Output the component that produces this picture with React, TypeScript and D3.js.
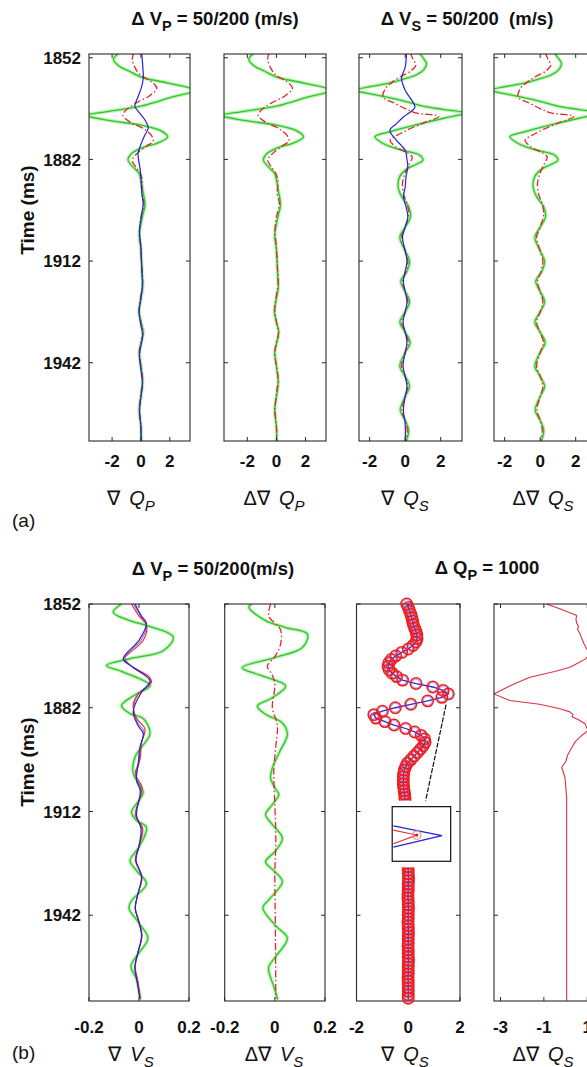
import React from 'react';
import * as d3 from 'd3';

// [time (ms), value]
type Pt = [number, number];

const timeTicks = [1852, 1882, 1912, 1942];
const ticksQ = [-2, 0, 2];
const ticksV = [-0.2, 0, 0.2];
const ticksDQ = [-3, -1, 1];

// (a) ΔVP = 50/200 : ∇QP / Δ∇QP
const qpGreen: Pt[] = [
  [1850.5, -1.5], [1852.5, -1.9], [1854.5, -1.5], [1856, -0.8], [1857.7, 0], [1859.5, 1.9],
  [1861.6, 3.7], [1863.8, 2.0], [1866.3, 0], [1867.8, -2.2], [1869, -3.8], [1870.5, -2.2],
  [1871.9, 0], [1873.6, 1.4], [1875.4, 1.85], [1877.1, 1.2], [1878.7, 0], [1880.5, -0.7],
  [1882.2, -0.9], [1884, -0.6], [1886, -0.15], [1888, 0], [1891, 0.12], [1895.5, 0.28],
  [1898, 0.15], [1901, 0], [1904.3, -0.12], [1908, -0.02], [1912.6, 0.05], [1916, 0.08],
  [1919.6, 0.13], [1923, 0], [1927, -0.14], [1930, 0], [1933, 0.16], [1936, 0.02],
  [1939, -0.12], [1943, 0], [1948, 0.12], [1952, 0], [1956, -0.12], [1961, 0], [1966, 0.02],
];
const qpRed: Pt[] = [
  [1850.5, -0.5], [1852.5, -0.6], [1855, -0.4], [1857.1, -0.05], [1859, 0.7], [1861, 1.1],
  [1863.2, 0.6], [1865.4, -0.35], [1867.3, -1.0], [1869, -1.25], [1871, -0.75], [1873, 0.2],
  [1874.8, 0.7], [1876.5, 0.85], [1878.2, 0.35], [1880, -0.2], [1882.2, -0.6], [1884.3, -0.35],
  [1886.5, 0], [1889, 0.1], [1892, 0.05], [1895, 0.2], [1899, 0], [1903, -0.1], [1908, 0],
  [1913, 0.05], [1918, 0.12], [1922, 0], [1926, -0.12], [1930, 0], [1933, 0.14], [1936, 0],
  [1939, -0.12], [1943, 0], [1947, 0.12], [1951, 0], [1956, -0.1], [1961, 0], [1966, 0.02],
];
const qpBlue: Pt[] = [
  [1850.5, 0.05], [1853, 0.1], [1856, 0.15], [1858, 0.16], [1860.5, 0.05], [1863.5, -0.2],
  [1866.3, -0.42], [1868.3, -0.1], [1870.5, 0.3], [1872.8, 0.5], [1875, 0.25], [1877.5, 0.0],
  [1880.2, -0.2], [1882.5, -0.15], [1885, -0.05], [1888, 0], [1892, 0.06], [1895, 0.15],
  [1899, 0.02], [1903, -0.1], [1908, 0], [1913, 0.04], [1919, 0.1], [1923, 0], [1927, -0.12],
  [1931, 0], [1934, 0.12], [1937, 0], [1940, -0.1], [1944, 0], [1948, 0.1], [1952, 0],
  [1956, -0.1], [1961, 0], [1966, 0],
];

// (a) ΔVS = 50/200 : ∇QS / Δ∇QS
const qsGreen: Pt[] = [
  [1850.5, 0.8], [1852, 1.0], [1853.7, 1.2], [1855.5, 1.05], [1857.1, 0.6], [1858.3, -0.1],
  [1859.5, -0.9], [1861.6, -2.8], [1862.8, -1.8], [1863.9, -0.8], [1865, 0.1], [1866.3, 1.0],
  [1867.3, 2.2], [1868.3, 3.4], [1869.6, 2.4], [1871.3, 1.0], [1872.6, 0.0], [1873.9, -0.9],
  [1875.3, -1.7], [1876.8, -1.4], [1878.3, -0.8], [1879.5, 0.0], [1880.7, 0.8], [1882.2, 1.0],
  [1883.5, 0.6], [1884.8, 0.1], [1887, -0.3], [1890, -0.4], [1893, -0.2], [1896, 0.2],
  [1899, 0.3], [1902, 0], [1905, -0.3], [1909, 0], [1912, 0.25], [1915, 0.1], [1918, -0.25],
  [1921, 0], [1924, 0.25], [1927, 0], [1930, -0.3], [1933, 0], [1936, 0.28], [1939, 0],
  [1943, -0.3], [1946, 0], [1949, 0.25], [1952, 0], [1956, -0.28], [1959, 0], [1962, 0.2],
  [1966, 0],
];
const qsRed: Pt[] = [
  [1850.5, 0.3], [1852, 0.4], [1854.2, 0.6], [1856, 0.3], [1857.7, -0.3], [1859.5, -0.8],
  [1861, -1.1], [1863.6, -1.25], [1865.4, -0.6], [1867, 0.0], [1868.3, 0.6], [1869.3, 1.9],
  [1871.3, 1.0], [1873.4, 0.1], [1875, -0.5], [1876.3, -0.85], [1878.4, -0.5], [1880, 0.1],
  [1881.3, 0.4], [1883.1, 0.25], [1886, 0], [1889, -0.15], [1892, -0.1], [1895, 0.1],
  [1898, 0.2], [1902, 0], [1905, -0.2], [1909, 0], [1912, 0.15], [1915, 0.05], [1918, -0.15],
  [1921, 0], [1924, 0.15], [1927, 0], [1930, -0.2], [1933, 0], [1936, 0.18], [1939, 0],
  [1943, -0.2], [1946, 0], [1949, 0.15], [1952, 0], [1956, -0.18], [1959, 0], [1962, 0.12],
  [1966, 0],
];
const qsBlue: Pt[] = [
  [1850.5, 0.08], [1854.8, 0], [1858, -0.2], [1861.6, 0], [1864, 0.3], [1866.6, 0.55],
  [1869.5, -0.1], [1871.5, -0.5], [1873.4, -0.86], [1876.3, -0.5], [1879.3, 0], [1882, 0.1],
  [1884.3, 0.15], [1887, 0.05], [1890.2, 0], [1893, -0.1], [1896, 0.05], [1899, 0.15],
  [1902, 0], [1905, -0.15], [1909, 0], [1912, 0.1], [1915, 0], [1918, -0.1], [1921, 0],
  [1924, 0.1], [1927, 0], [1930, -0.12], [1933, 0], [1936, 0.1], [1939, 0], [1943, -0.12],
  [1946, 0], [1949, 0.1], [1952, 0], [1956, -0.1], [1960, 0], [1966, 0],
];

// (b) ΔVP = 50/200 : ∇VS / Δ∇VS
const vsGreen: Pt[] = [
  [1852, -0.07], [1854.4, -0.103], [1856.8, -0.036], [1858.2, 0.03], [1861.6, 0.137],
  [1865.5, 0.097], [1867.8, -0.036], [1869.8, -0.13], [1871.7, -0.063], [1875.6, 0.044],
  [1878, -0.01], [1881.4, -0.07], [1883.7, -0.036], [1885.1, 0.017], [1889.5, 0.044],
  [1893.4, 0.01], [1896.3, -0.016], [1901, -0.023], [1903.9, 0], [1906.4, 0.017], [1908.8, 0],
  [1912.2, -0.03], [1914.6, -0.01], [1916.6, 0.03], [1922.3, 0], [1926.2, -0.036],
  [1929.1, -0.01], [1932.9, 0.03], [1937.8, -0.03], [1940, -0.04], [1944.3, 0],
  [1948.6, 0.036], [1952.9, 0], [1956.7, -0.032], [1960.5, -0.01], [1966.4, 0.006],
];
const vsRed: Pt[] = [
  [1852, -0.03], [1855.5, 0.0], [1858.2, 0.03], [1862.5, 0.017], [1866.5, -0.043],
  [1868, -0.063], [1870, -0.03], [1873, 0.04], [1874.6, 0.05], [1878, -0.003], [1881, -0.023],
  [1885, -0.01], [1888.2, 0.024], [1892, 0.01], [1897, 0.004], [1901, -0.015], [1905, 0.012],
  [1909, 0], [1913, -0.015], [1917, 0.015], [1922, 0], [1926, -0.015], [1931, 0.012],
  [1936, -0.005], [1940, -0.015], [1944, 0], [1948, 0.012], [1953, -0.005], [1957, -0.015],
  [1961, -0.005], [1966, 0.005],
];
const vsBlue: Pt[] = [
  [1852, -0.016], [1855.5, 0.01], [1857.6, 0.03], [1862.5, 0], [1867.8, -0.063], [1870, -0.03],
  [1874.2, 0.044], [1877.5, 0.01], [1883, -0.023], [1887, -0.005], [1889.5, 0.017],
  [1893.4, 0.004], [1898, -0.003], [1903, -0.01], [1906, 0.005], [1913, -0.01], [1917, 0.008],
  [1922, 0], [1926, -0.012], [1931, 0.01], [1936, -0.005], [1940, -0.015], [1944, 0],
  [1948, 0.01], [1953, -0.005], [1957, -0.017], [1961, -0.008], [1966, 0.003],
];
const vsPurple: Pt[] = [
  [1852, -0.022], [1855.5, 0.006], [1858, 0.03], [1862.5, 0.008], [1867.5, -0.055],
  [1870, -0.03], [1874.4, 0.047], [1878, -0.002], [1882, -0.022], [1886, -0.008],
  [1889, 0.02], [1893, 0.006], [1898, 0], [1902, -0.012], [1906, 0.008], [1913, -0.012],
  [1917, 0.012], [1922, 0], [1926, -0.013], [1931, 0.011], [1936, -0.005], [1940, -0.015],
  [1944, 0], [1948, 0.011], [1953, -0.005], [1957, -0.016], [1961, -0.006], [1966, 0.004],
];
const dvsGreen: Pt[] = [
  [1852, -0.092], [1852.9, -0.104], [1856.8, -0.037], [1858.8, 0.043], [1860.7, 0.13],
  [1864.6, 0.11], [1867.5, 0], [1870.4, -0.13], [1872.8, -0.05], [1875.7, 0.043],
  [1879.1, -0.01], [1881.5, -0.07], [1883.9, -0.037], [1886.4, 0.03], [1889.7, 0.05],
  [1894.6, 0.02], [1899.4, -0.01], [1902.3, -0.017], [1905.2, 0], [1907.1, 0.016],
  [1910, -0.01], [1912.9, -0.037], [1915.8, -0.01], [1919.7, 0.03], [1923.6, 0],
  [1926.5, -0.037], [1929.4, 0], [1932.3, 0.03], [1937.6, -0.025], [1939.8, -0.048],
  [1945.1, 0.004], [1948.6, 0.05], [1953.9, 0.004], [1957.2, -0.025], [1962.6, -0.004],
  [1966.4, 0.012],
];
const dvsRed: Pt[] = [
  [1852, -0.017], [1855.5, -0.024], [1859.5, 0.023], [1863.5, 0.023], [1867, 0.002],
  [1870, -0.03], [1872.5, -0.01], [1875.5, 0], [1882, -0.01], [1887, 0.01], [1893, 0.004],
  [1900, -0.004], [1910, 0], [1920, 0.004], [1930, 0], [1945, 0.002], [1966, 0.004],
];

// (b) ΔQP = 1000 : ∇QS sampled every 1 ms from 1852 ms
const qsSampleStart = 1852;
const qsSamples = [
  -0.06, 0.0, 0.05, 0.1, 0.14, 0.17, 0.2, 0.25, 0.3, 0.33,
  0.34, 0.3, 0.18, 0.0, -0.25, -0.48, -0.65, -0.75, -0.78, -0.74,
  -0.62, -0.45, -0.22, 0.3, 0.95, 1.35, 1.55, 1.3, 0.75, 0.1,
  -0.5, -1.0, -1.33, -1.25, -0.9, -0.55, -0.1, 0.25, 0.5, 0.63,
  0.65, 0.58, 0.47, 0.35, 0.22, 0.1, -0.03, -0.1, -0.15, -0.18,
  -0.19, -0.19, -0.19, -0.18, -0.16, -0.14, -0.13, -0.12, -0.1, -0.08,
  -0.06, -0.05, -0.04, -0.03, -0.02, -0.02, -0.01, -0.01, 0, 0,
  0.01, 0.01, 0.01, 0, 0, -0.01, -0.01, 0, 0, 0.01,
  0.01, 0, 0, 0, -0.01, -0.01, 0, 0, 0.01, 0,
  0, 0, -0.01, 0, 0, 0.01, 0, 0, 0, -0.01,
  0, 0, 0, 0.01, 0, 0, 0, 0, -0.01, 0,
  0, 0, 0, 0, 0,
];
// Δ∇QS
const dqsRed: Pt[] = [
  [1852, -0.88], [1853.5, -0.2], [1855.3, 0.51], [1856.5, 0.48], [1857.6, 0.52], [1858.5, 0.6],
  [1859.2, 0.55], [1860.5, 0.66], [1862, 0.75], [1863.5, 0.85], [1864.9, 0.97], [1866.3, 1.12],
  [1867.8, 0.94], [1869, 0.6], [1870.3, 0.2], [1871.5, -0.5], [1873.2, -1.65], [1875.5, -2.5],
  [1878, -3.31], [1879.9, -2.57], [1881, -1.2], [1882.3, -0.26], [1883.2, 0.2], [1884, 0.34],
  [1884.6, 0.3], [1885.3, 0.55], [1886.6, 0.9], [1888.6, 1.03], [1890.5, 0.66], [1891.8, 0.45],
  [1893, 0.34], [1894.5, 0.2], [1895.5, 0.11], [1896.6, 0.05], [1897.5, 0.02], [1899.2, -0.18],
  [1902.1, -0.03], [1907.9, 0.05], [1930, 0.05], [1967, 0.05],
];

// magnified peak shown in the inset, in inset-relative units (0..1)
const insetBlue: [number, number][] = [[0.02, 0.35], [0.85, 0.53], [0.02, 0.74]];
const insetRed: [number, number][] = [[0.02, 0.43], [0.42, 0.52], [0.02, 0.68]];
const insetMarker: [number, number] = [0.42, 0.52];
// inset extent in the data space of the ∇QS axes: [value range], [time range]
const insetValues: [number, number] = [-0.62, 1.64];
const insetTimes: [number, number] = [1910.6, 1926.4];
const insetPeakTime = 1878;

const FONT = "'Liberation Sans', Arial, Helvetica, sans-serif";

type Kind = 'green' | 'red' | 'redSolid' | 'blue' | 'purple' | 'thinRed';
interface Series { pts: Pt[]; kind: Kind }

const strokeStyles: Record<Kind, { stroke: string; width: number; dash?: string; opacity?: number }[]> = {
  green: [
    { stroke: '#b6f0ab', width: 3.6, opacity: 0.9 },
    { stroke: '#2cc82c', width: 1.3 },
  ],
  red: [{ stroke: '#e2262c', width: 1.3, dash: '7,2.5,1.5,2.5' }],
  redSolid: [{ stroke: '#e8303a', width: 1.2 }],
  thinRed: [{ stroke: '#dd3040', width: 1.1 }],
  blue: [{ stroke: '#2424d4', width: 1.2 }],
  purple: [{ stroke: '#8a2a9a', width: 1.0, opacity: 0.85 }],
};

function AxisLabel({ x, y, pre, main, sub }: { x: number; y: number; pre: string; main: string; sub: string }) {
  return (
    <text x={x} y={y} textAnchor="middle" fontSize={20} fill="#111">
      <tspan>{pre}</tspan>
      <tspan fontStyle="italic" dx={9}>{main}</tspan>
      <tspan fontStyle="italic" fontSize={15} dy={6}>{sub}</tspan>
    </text>
  );
}

interface PanelProps {
  id: string;
  left: number;
  right: number;
  y: d3.ScaleLinear<number, number>;
  domain: [number, number];
  xTicks: number[];
  lines: Series[];
  showTimeTicks: boolean;
  tickBaseline: number;
  linear?: boolean;
  extra?: (x: d3.ScaleLinear<number, number>) => React.ReactNode;
}

function Panel({ id, left, right, y, domain, xTicks, lines, showTimeTicks, tickBaseline, linear, extra }: PanelProps) {
  const x = d3.scaleLinear().domain(domain).range([left, right]);
  const [top, bottom] = y.range();
  const gen = d3
    .line<Pt>()
    .x((d) => x(d[1]))
    .y((d) => y(d[0]))
    .curve(linear ? d3.curveLinear : d3.curveCatmullRom.alpha(0.5));
  const tl = 4;
  return (
    <g>
      <defs>
        <clipPath id={id}>
          <rect x={left} y={top} width={right - left} height={bottom - top} />
        </clipPath>
      </defs>
      <g clipPath={`url(#${id})`}>
        {lines.map((s, i) =>
          strokeStyles[s.kind].map((st, j) => (
            <path
              key={`${i}-${j}`}
              d={gen(s.pts) ?? ''}
              fill="none"
              stroke={st.stroke}
              strokeWidth={st.width}
              strokeDasharray={st.dash}
              strokeOpacity={st.opacity ?? 1}
              strokeLinejoin="round"
            />
          ))
        )}
      </g>
      <rect x={left} y={top} width={right - left} height={bottom - top} fill="none" stroke="#2a2a2a" strokeWidth={1.1} />
      {timeTicks.map((t) => (
        <g key={t} stroke="#2a2a2a" strokeWidth={1}>
          <line x1={left} x2={left + tl} y1={y(t)} y2={y(t)} />
          <line x1={right - tl} x2={right} y1={y(t)} y2={y(t)} />
        </g>
      ))}
      {xTicks.map((v) => (
        <g key={v} stroke="#2a2a2a" strokeWidth={1}>
          <line x1={x(v)} x2={x(v)} y1={bottom} y2={bottom - tl} />
          <line x1={x(v)} x2={x(v)} y1={top} y2={top + tl} />
        </g>
      ))}
      {xTicks.map((v) => (
        <text key={`l${v}`} x={x(v)} y={tickBaseline} textAnchor="middle" fontSize={17} fontWeight="bold" fill="#111">
          {v < 0 ? `-${Math.abs(v)}` : `${v}`}
        </text>
      ))}
      {showTimeTicks &&
        timeTicks.map((t) => (
          <text key={`t${t}`} x={left - 8} y={y(t)} dy="0.36em" textAnchor="end" fontSize={17} fontWeight="bold" fill="#111">
            {t}
          </text>
        ))}
      {extra && extra(x)}
    </g>
  );
}

function Title({ x, y, pre, sub, post }: { x: number; y: number; pre: string; sub: string; post: string }) {
  return (
    <text x={x} y={y} textAnchor="middle" fontSize={18.5} fontWeight="bold" fill="#111" style={{ whiteSpace: 'pre' }}>
      <tspan>{pre}</tspan>
      <tspan fontSize={14.5} dy={6}>{sub}</tspan>
      <tspan dy={-6}>{post}</tspan>
    </text>
  );
}

export default function App() {
  const yA = d3.scaleLinear().domain([1850.9, 1965.1]).range([54, 441]);
  const yB = d3.scaleLinear().domain([1852, 1966.8]).range([604, 1001]);

  const qsPts: Pt[] = qsSamples.map((v, i) => [qsSampleStart + i, v]);

  const qsExtra = (x: d3.ScaleLinear<number, number>) => {
    const ix = d3.scaleLinear().domain([0, 1]).range([x(insetValues[0]), x(insetValues[1])]);
    const iy = d3.scaleLinear().domain([0, 1]).range([yB(insetTimes[0]), yB(insetTimes[1])]);
    const lineGen = d3.line<Pt>().x((d) => x(d[1])).y((d) => yB(d[0]));
    const insetGen = d3.line<[number, number]>().x((d) => ix(d[0])).y((d) => iy(d[1]));
    const peak = qsPts.find((p) => p[0] === insetPeakTime) as Pt;
    const px = x(peak[1]);
    const py = yB(peak[0]);
    const bx = ix(0.55);
    const by = iy(0);
    const len = Math.hypot(bx - px, by - py);
    const sx = px + ((bx - px) / len) * 11;
    const sy = py + ((by - py) / len) * 11;
    return (
      <g>
        <path d={lineGen(qsPts) ?? ''} fill="none" stroke="#2a2ad0" strokeWidth={1.3} />
        {qsPts.map((p, i) => (
          <circle key={`b${i}`} cx={x(p[1])} cy={yB(p[0])} r={4.4} fill="none" stroke="#6a3ad0" strokeWidth={0.8} strokeOpacity={0.7} />
        ))}
        {qsPts.map((p, i) => (
          <circle key={`r${i}`} cx={x(p[1])} cy={yB(p[0])} r={5.7} fill="none" stroke="#f01c1c" strokeWidth={1.5} />
        ))}
        <line x1={sx} y1={sy} x2={bx} y2={by} stroke="#111" strokeWidth={1.2} strokeDasharray="5,1.5" />
        <rect x={ix(0) - 5} y={iy(0) - 6} width={ix(1) - ix(0) + 10} height={iy(1) - iy(0) + 12} fill="#fff" />
        <rect x={ix(0)} y={iy(0)} width={ix(1) - ix(0)} height={iy(1) - iy(0)} fill="#fff" stroke="#111" strokeWidth={1.2} />
        <path d={insetGen(insetBlue) ?? ''} fill="none" stroke="#2424d4" strokeWidth={1.3} />
        <path d={insetGen(insetRed) ?? ''} fill="none" stroke="#e83030" strokeWidth={1.1} />
        <circle cx={ix(insetMarker[0])} cy={iy(insetMarker[1])} r={4.2} fill="none" stroke="#f08aa0" strokeWidth={1.2} />
        <circle cx={ix(insetMarker[0])} cy={iy(insetMarker[1])} r={1.6} fill="#e82020" />
      </g>
    );
  };

  const timeLabel = (cy: number) => (
    <text x={0} y={0} transform={`translate(34,${cy}) rotate(-90)`} textAnchor="middle" fontSize={19} fontWeight="bold" fill="#111">
      Time (ms)
    </text>
  );

  return (
    <svg width={587} height={1067} style={{ position: 'absolute', left: 0, top: 0 }} fontFamily={FONT}>
      <rect x={0} y={0} width={587} height={1067} fill="#fff" />

      {/* (a) */}
      <Title x={215} y={25} pre="Δ V" sub="P" post=" = 50/200 (m/s)" />
      <Title x={467} y={25} pre="Δ V" sub="S" post=" = 50/200  (m/s)" />
      {timeLabel(210)}
      <Panel id="a1" left={89} right={190} y={yA} domain={[-3.6, 3.4]} xTicks={ticksQ} showTimeTicks tickBaseline={467}
        lines={[{ pts: qpGreen, kind: 'green' }, { pts: qpRed, kind: 'red' }, { pts: qpBlue, kind: 'blue' }]} />
      <Panel id="a2" left={224} right={326} y={yA} domain={[-3.6, 3.4]} xTicks={ticksQ} showTimeTicks={false} tickBaseline={467}
        lines={[{ pts: qpGreen, kind: 'green' }, { pts: qpRed, kind: 'red' }]} />
      <Panel id="a3" left={359} right={462} y={yA} domain={[-2.6, 3.2]} xTicks={ticksQ} showTimeTicks={false} tickBaseline={467}
        lines={[{ pts: qsGreen, kind: 'green' }, { pts: qsRed, kind: 'red' }, { pts: qsBlue, kind: 'blue' }]} />
      <Panel id="a4" left={494} right={597} y={yA} domain={[-2.6, 3.2]} xTicks={ticksQ} showTimeTicks={false} tickBaseline={467}
        lines={[{ pts: qsGreen, kind: 'green' }, { pts: qsRed, kind: 'red' }]} />
      <AxisLabel x={131} y={505} pre="∇" main="Q" sub="P" />
      <AxisLabel x={274} y={505} pre="Δ∇" main="Q" sub="P" />
      <AxisLabel x={405} y={505} pre="∇" main="Q" sub="S" />
      <AxisLabel x={543} y={505} pre="Δ∇" main="Q" sub="S" />
      <text x={12} y={527} fontSize={19} fill="#111">(a)</text>

      {/* (b) */}
      <Title x={213} y={575} pre="Δ V" sub="P" post=" = 50/200(m/s)" />
      <Title x={487} y={574} pre="Δ Q" sub="P" post=" = 1000" />
      {timeLabel(762)}
      <Panel id="b1" left={89} right={189} y={yB} domain={[-0.2, 0.2]} xTicks={ticksV} showTimeTicks tickBaseline={1033}
        lines={[
          { pts: vsGreen, kind: 'green' },
          { pts: vsPurple, kind: 'purple' },
          { pts: vsRed, kind: 'redSolid' },
          { pts: vsBlue, kind: 'blue' },
        ]} />
      <Panel id="b2" left={224.7} right={325} y={yB} domain={[-0.2, 0.2]} xTicks={ticksV} showTimeTicks={false} tickBaseline={1033}
        lines={[{ pts: dvsGreen, kind: 'green' }, { pts: dvsRed, kind: 'red' }]} />
      <Panel id="b3" left={356.5} right={460} y={yB} domain={[-2, 2]} xTicks={ticksQ} showTimeTicks={false} tickBaseline={1033}
        lines={[]} extra={qsExtra} />
      <Panel id="b4" left={494} right={597} y={yB} domain={[-3.3, 1.45]} xTicks={ticksDQ} showTimeTicks={false} tickBaseline={1033}
        linear lines={[{ pts: dqsRed, kind: 'thinRed' }]} />
      <AxisLabel x={131} y={1061} pre="∇" main="V" sub="S" />
      <AxisLabel x={274} y={1061} pre="Δ∇" main="V" sub="S" />
      <AxisLabel x={405} y={1061} pre="∇" main="Q" sub="S" />
      <AxisLabel x={543} y={1061} pre="Δ∇" main="Q" sub="S" />
      <text x={12} y={1059} fontSize={19} fill="#111">(b)</text>
    </svg>
  );
}
